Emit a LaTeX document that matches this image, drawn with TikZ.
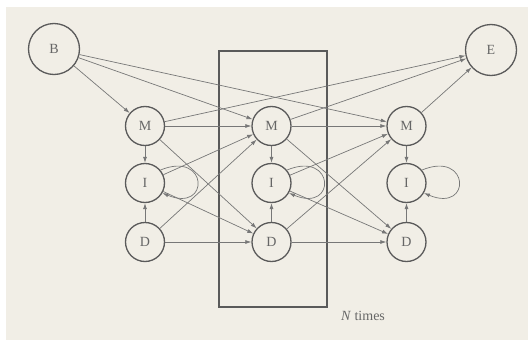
\documentclass[tikz,border=0pt]{standalone}
\usepackage{fontspec}
\setmainfont{Liberation Serif}
\usetikzlibrary{arrows.meta}
\definecolor{paper}{HTML}{F1EEE6}
\definecolor{ink}{HTML}{5A5A5A}
\definecolor{wire}{HTML}{777777}
\definecolor{label}{HTML}{666666}
\tikzset{
  state/.style={circle, draw=ink, line width=1.3pt, inner sep=0pt,
    minimum size=39pt, text=label, font=\fontsize{14}{16}\selectfont},
  bigstate/.style={state, minimum size=51pt},
  arr/.style={draw=wire, line width=0.7pt,
    -{Latex[length=6pt,width=4pt]}},
}
\begin{document}
\begin{tikzpicture}[x=1pt, y=-1pt]
  \useasboundingbox (0,0) rectangle (528,340);
  \fill[white] (0,0) rectangle (528,340);
  \fill[paper] (6,7) rectangle (528,340);

  % repeated block
  \draw[ink, line width=1.3pt] (219,51) rectangle (327,307);
  \node[text=label, font=\fontsize{14}{16}\selectfont] (ntimes) at (363,316) {\textit{N} times};

  % start and end states
  \node[bigstate] (B) at (54,49) {B};
  \node[bigstate] (E) at (491,50) {E};

  % three columns of match / insert / delete states
  \foreach \c/\x in {1/145, 2/271.5, 3/406.5} {
    \node[state] (M\c) at (\x,126) {M};
    \node[state] (I\c) at (\x,183) {I};
    \node[state] (D\c) at (\x,242) {D};
  }

  % entry and exit
  \draw[arr] (B) -- (M1);
  \draw[arr] (B) -- (M2);
  \draw[arr] (B) -- (M3);
  \draw[arr] (M1) -- (E);
  \draw[arr] (M2) -- (E);
  \draw[arr] (M3) -- (E);

  % within each column
  \foreach \c in {1,2,3} {
    \draw[arr] (M\c) -- (I\c);
    \draw[arr] (D\c) -- (I\c);
    \draw[arr] (I\c.40) .. controls +(48,-20) and +(48,20) .. (I\c.-30);
  }

  % between neighbouring columns
  \foreach \a/\b in {1/2, 2/3} {
    \draw[arr] (M\a) -- (M\b);
    \draw[arr] (M\a) -- (D\b);
    \draw[arr] (I\a) -- (M\b);
    \draw[arr] (I\a) -- (D\b);
    \draw[arr] (D\a) -- (M\b);
    \draw[arr] (D\a) -- (D\b);
  }
\end{tikzpicture}
\end{document}
